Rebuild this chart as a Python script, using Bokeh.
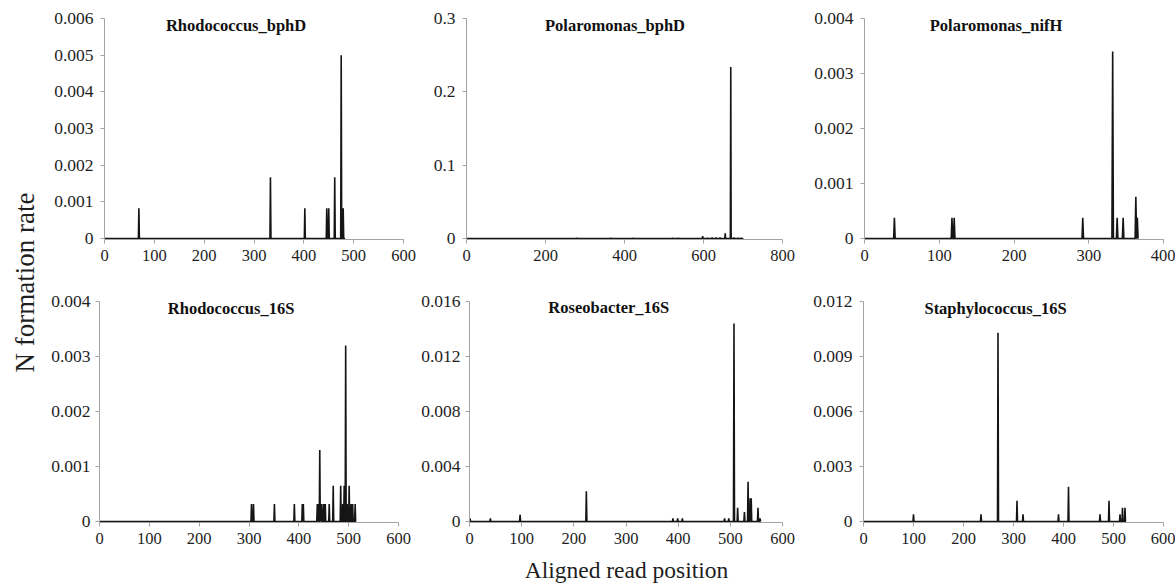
import numpy as np
from bokeh.plotting import figure
from bokeh.layouts import row, column
from bokeh.models import Range1d, FixedTicker, Label
from bokeh.embed import file_html
from bokeh.resources import INLINE
from bokeh.core.properties import value

# ---------------- data ----------------
titles = ["Rhodococcus_bphD", "Polaromonas_bphD", "Polaromonas_nifH",
          "Rhodococcus_16S", "Roseobacter_16S", "Staphylococcus_16S"]

# read length (last aligned position) of every panel
read_len = [483, 701, 366, 515, 558, 525]

# Rhodococcus_bphD
rb_pos = [69, 333, 402, 446, 450, 462, 475, 479]
rb_rate = [0.00083, 0.00167, 0.00083, 0.00083, 0.00083, 0.00167, 0.0050, 0.00083]

# Polaromonas_bphD
pb_pos = [279, 365, 422, 522, 536, 598, 610, 622, 632, 642, 655, 669, 677, 688, 695]
pb_rate = [0.001, 0.0008, 0.0008, 0.0008, 0.001, 0.0035, 0.001, 0.0015, 0.0015,
           0.0015, 0.0072, 0.234, 0.0015, 0.001, 0.001]

# Polaromonas_nifH
pn_pos = [40, 117, 120, 292, 332, 338, 346, 363, 365]
pn_rate = [0.00038, 0.00038, 0.00038, 0.00038, 0.0034, 0.00038, 0.00038, 0.00076, 0.00038]

# Rhodococcus_16S
r16_pos = [305, 309, 351, 391, 407, 409, 437, 439, 442, 444, 446, 450, 453, 461,
           469, 484, 488, 491, 494, 497, 501, 505, 508, 513]
r16_rate = [0.00032, 0.00032, 0.00032, 0.00032, 0.00032, 0.00032, 0.00032, 0.00032,
            0.0013, 0.00032, 0.00032, 0.00032, 0.00032, 0.00032, 0.00065, 0.00065,
            0.00032, 0.00065, 0.0032, 0.00032, 0.00065, 0.00032, 0.00032, 0.00032]

# Roseobacter_16S
ro_pos = [1, 40, 97, 224, 390, 399, 408, 489, 497, 507, 514, 527, 534, 538, 540, 553, 557]
ro_rate = [0.00024, 0.00024, 0.0005, 0.0022, 0.00024, 0.00024, 0.00024, 0.00024,
           0.00024, 0.0144, 0.001, 0.0007, 0.0029, 0.0017, 0.0017, 0.001, 0.00024]

# Staphylococcus_16S
st_pos = [100, 235, 269, 307, 319, 390, 410, 473, 491, 513, 518, 523]
st_rate = [0.0004, 0.0004, 0.0103, 0.00113, 0.0004, 0.0004, 0.0019, 0.0004,
           0.00113, 0.0004, 0.00075, 0.00075]

positions = [rb_pos, pb_pos, pn_pos, r16_pos, ro_pos, st_pos]
rates = [rb_rate, pb_rate, pn_rate, r16_rate, ro_rate, st_rate]

# axis ticks
x_ticks = [[0, 100, 200, 300, 400, 500, 600],
           [0, 200, 400, 600, 800],
           [0, 100, 200, 300, 400],
           [0, 100, 200, 300, 400, 500, 600],
           [0, 100, 200, 300, 400, 500, 600],
           [0, 100, 200, 300, 400, 500, 600]]
y_ticks = [[0, 0.001, 0.002, 0.003, 0.004, 0.005, 0.006],
           [0, 0.1, 0.2, 0.3],
           [0, 0.001, 0.002, 0.003, 0.004],
           [0, 0.001, 0.002, 0.003, 0.004],
           [0, 0.004, 0.008, 0.012, 0.016],
           [0, 0.003, 0.006, 0.009, 0.012]]
y_tick_labels = [["0", "0.001", "0.002", "0.003", "0.004", "0.005", "0.006"],
                 ["0", "0.1", "0.2", "0.3"],
                 ["0", "0.001", "0.002", "0.003", "0.004"],
                 ["0", "0.001", "0.002", "0.003", "0.004"],
                 ["0", "0.004", "0.008", "0.012", "0.016"],
                 ["0", "0.003", "0.006", "0.009", "0.012"]]

x_label = "Aligned read position"
y_label = "N formation rate"

# ---------------- layout (pixels) ----------------
# (width, height, border_left, border_right, border_top, border_bottom, y label standoff)
geom = [(375, 274, 56, 20, 18, 35, 7),
        (379, 274, 43, 20, 18, 35, 7),
        (373, 274, 62, 12, 18, 35, 7),
        (370, 276, 51, 20, 27, 28, 5),
        (384, 276, 51, 20, 25, 27, 5),
        (373, 276, 61, 12, 27, 28, 7)]
title_xfrac = [0.44, 0.47, 0.44, 0.44, 0.445, 0.44]

FONT = "Liberation Serif"
AXIS_COL = "#a3a3a3"
TXT_COL = "#1e1e1e"


def make_panel(i):
    w, h, bl, br, bt, bb, ysd = geom[i]
    xmax = x_ticks[i][-1]
    ymax = y_ticks[i][-1]
    frame_h = h - bt - bb
    ymin = -ymax * 0.9 / frame_h
    p = figure(width=w, height=h, title=None,
               x_range=Range1d(0, xmax), y_range=Range1d(ymin, ymax),
               output_backend="svg", toolbar_location=None,
               min_border_left=bl, min_border_right=br,
               min_border_top=bt, min_border_bottom=bb)
    p.grid.visible = False
    p.outline_line_color = None
    p.background_fill_color = "white"
    p.border_fill_color = "white"

    # full per-position series: rate 0 except at listed positions
    xs = np.arange(0, read_len[i] + 1)
    ys = np.zeros(len(xs))
    ys[np.array(positions[i])] = rates[i]
    p.line(xs, ys, line_color="#151515", line_width=1.6, line_join="bevel")

    for ax in (p.xaxis[0], p.yaxis[0]):
        ax.axis_line_color = AXIS_COL
        ax.axis_line_width = 1
        ax.major_tick_line_color = AXIS_COL
        ax.major_tick_out = 4
        ax.major_tick_in = 0
        ax.minor_tick_out = 0
        ax.minor_tick_in = 0
        ax.major_label_text_font = FONT
        ax.major_label_text_color = TXT_COL
    p.xaxis.major_label_text_font_size = "16.5px"
    p.yaxis.major_label_text_font_size = "17.5px"
    p.xaxis.ticker = FixedTicker(ticks=x_ticks[i], minor_ticks=[])
    p.yaxis.ticker = FixedTicker(ticks=y_ticks[i], minor_ticks=[])
    p.yaxis.major_label_overrides = dict(zip(y_ticks[i], y_tick_labels[i]))
    p.xaxis.major_label_standoff = 6
    p.yaxis.major_label_standoff = ysd

    ty = ymax - (6.5 / frame_h) * (ymax - ymin)
    p.add_layout(Label(x=xmax * title_xfrac[i], y=ty, text=titles[i],
                       text_font=FONT, text_font_style="bold",
                       text_font_size="16.5px", text_color="#111111",
                       text_align="center", text_baseline="middle"))
    return p


panels = [make_panel(i) for i in range(6)]

# y-axis title strip
yl_w, yl_h = 48, 274 + 276
yl = figure(width=yl_w, height=yl_h, x_range=Range1d(0, yl_w), y_range=Range1d(0, yl_h),
            output_backend="svg", toolbar_location=None, title=None,
            x_axis_location=None, y_axis_location=None, min_border=0)
yl.grid.visible = False
yl.outline_line_color = None
yl.text(x=[24], y=[yl_h - 282], text=[y_label], angle=np.pi / 2,
        text_font=value(FONT), text_font_size="27px", text_color=TXT_COL,
        text_align="center", text_baseline="middle")

# x-axis title strip
xl_w, xl_h = 1175, 34
xl = figure(width=xl_w, height=xl_h, x_range=Range1d(0, xl_w), y_range=Range1d(0, xl_h),
            output_backend="svg", toolbar_location=None, title=None,
            x_axis_location=None, y_axis_location=None, min_border=0)
xl.grid.visible = False
xl.outline_line_color = None
xl.text(x=[626], y=[15], text=[x_label],
        text_font=value(FONT), text_font_size="23.5px", text_color=TXT_COL,
        text_align="center", text_baseline="middle")

grid = column(row(panels[0], panels[1], panels[2], spacing=0),
              row(panels[3], panels[4], panels[5], spacing=0), spacing=0)
layout = column(row(yl, grid, spacing=0), xl, spacing=0)

open("out.html", "w").write(file_html(layout, INLINE))
